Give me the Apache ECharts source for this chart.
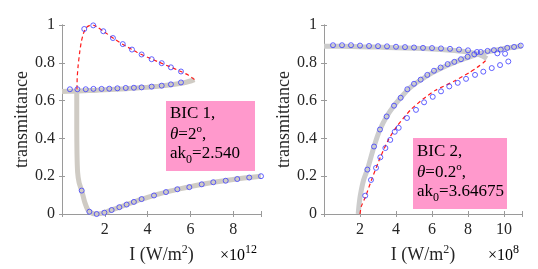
<!DOCTYPE html>
<html><head><meta charset="utf-8">
<script src="https://cdn.jsdelivr.net/npm/echarts@6/dist/echarts.min.js"></script>
<style>html,body{margin:0;padding:0;background:#fff}#c{width:538px;height:269px}</style>
</head><body><div id="c"></div>
<script>
// ---------- Panel 1 (BIC 1) ----------
const p1GrayUpper = [[0,0.648],[0.5,0.650],[1,0.652],[1.5,0.654],[2,0.657],[2.5,0.660],[3,0.663],[3.5,0.667],[4,0.671],[4.5,0.676],[5,0.682],[5.5,0.690],[5.8,0.697],[6.05,0.705],[6.19,0.711]];
const p1GrayLower = [[0.69,0.655],[0.69,0.45],[0.70,0.32],[0.73,0.22],[0.8,0.165],[0.92,0.124],[1.07,0.06],[1.23,0.018],[1.45,0.002],[1.62,0],[1.8,0.002],[2.0,0.008],[2.5,0.028],[3.0,0.049],[3.5,0.070],[4.0,0.088],[4.5,0.105],[5.0,0.120],[5.5,0.133],[6.0,0.145],[6.5,0.156],[7.0,0.166],[7.5,0.175],[8.0,0.183],[8.5,0.190],[9.3,0.200]];
const p1Red = [[0.70,0.66],[0.71,0.72],[0.75,0.78],[0.82,0.85],[0.9,0.91],[1.0,0.955],[1.12,0.985],[1.3,0.998],[1.45,1.0],[1.7,0.985],[2.0,0.962],[2.5,0.922],[3.0,0.887],[3.5,0.856],[4.0,0.829],[4.5,0.805],[5.0,0.781],[5.5,0.757],[5.9,0.735],[6.19,0.712]];
const p1CirclesUpper = [[1.04,0.979],[1.46,0.998],[1.93,0.967],[2.38,0.931],[2.84,0.899],[3.27,0.870],[3.72,0.844],[4.19,0.819],[4.66,0.798],[5.09,0.776],[5.56,0.754]];
const p1CirclesMid = [[0.37,0.660],[0.72,0.660],[1.11,0.660],[1.47,0.662],[1.85,0.662],[2.21,0.663],[2.59,0.665],[2.98,0.667],[3.36,0.668],[3.72,0.670],[4.19,0.674],[4.66,0.679],[5.09,0.686],[5.56,0.696]];
const p1CirclesLower = [[0.92,0.124],[1.28,0.012],[1.62,0.0],[1.98,0.007],[2.32,0.021],[2.68,0.036],[3.02,0.050],[3.36,0.064],[3.72,0.079],[4.30,0.098],[4.86,0.116],[5.39,0.131],[5.95,0.142],[6.53,0.157],[7.07,0.168],[7.65,0.176],[8.19,0.185],[8.75,0.193],[9.3,0.200]];
// ---------- Panel 2 (BIC 2) ----------
const p2GrayUpper = [[0,0.888],[1,0.887],[2,0.885],[3,0.883],[4,0.880],[5,0.877],[6,0.873],[7,0.867],[7.8,0.860],[8.4,0.850],[8.8,0.836],[9.05,0.822]];
const p2GrayLower = [[1.9,0],[1.95,0.05],[2.02,0.10],[2.2,0.18],[2.41,0.235],[2.78,0.357],[3.11,0.447],[3.48,0.516],[3.89,0.573],[4.26,0.615],[4.63,0.655],[5.0,0.685],[5.5,0.717],[6.11,0.752],[6.87,0.787],[7.61,0.815],[8.35,0.840],[9.09,0.858],[9.82,0.872],[10.5,0.882],[11,0.889]];
const p2Red = [[2.0,0.0],[2.07,0.04],[2.3,0.09],[2.67,0.188],[3.13,0.30],[3.59,0.395],[4.06,0.465],[4.8,0.55],[5.5,0.608],[6.2,0.655],[7.3,0.706],[8.1,0.750],[8.5,0.775],[8.85,0.800],[9.05,0.817]];
const p2CirclesA = [[0.5,0.893],[1.0,0.893],[1.5,0.893],[2.0,0.891],[2.5,0.889],[3.0,0.888],[3.5,0.887],[4.0,0.885],[4.5,0.883],[5.0,0.881],[5.5,0.879],[6.0,0.878],[6.5,0.876],[7.0,0.874],[7.5,0.870],[8.0,0.866],[8.5,0.857],[9.63,0.850],[10.06,0.848]];
const p2CirclesB = [[2.41,0.235],[2.78,0.357],[3.11,0.447],[3.48,0.516],[3.89,0.573],[4.26,0.615],[4.63,0.660],[5.0,0.689],[5.37,0.711],[5.74,0.736],[6.11,0.758],[6.48,0.775],[6.87,0.793],[7.24,0.805],[7.61,0.819],[7.98,0.832],[8.35,0.845],[8.71,0.857],[9.09,0.863],[9.44,0.867],[9.82,0.870],[10.18,0.879],[10.56,0.884],[10.93,0.891]];
const p2CirclesC = [[2.29,0.097],[2.61,0.180],[2.89,0.244],[3.13,0.300],[3.41,0.349],[3.68,0.392],[3.93,0.435],[4.15,0.456],[4.61,0.508],[5.11,0.551],[5.56,0.591],[6.04,0.620],[6.5,0.649],[6.96,0.675],[7.43,0.694],[7.89,0.715],[8.39,0.736],[8.85,0.753],[9.32,0.772],[9.78,0.788],[10.24,0.807]];
const yTicks = [0,0.2,0.4,0.6,0.8,1];
const x1Ticks = [2,4,6,8];
const x2Ticks = [2,4,6,8,10];
const x1Max = 9.3, x2Max = 11;

const FONT = '"Liberation Serif", "Times New Roman", Times, serif';
const AX = '#9a9a9a';
const TXT = '#262626';
const GRAY1 = '#cfcbc4', GRAY2 = '#cccccc';
const BLUE = '#3c3cff';

function xMain(gi, max, ticks){
  return {type:'value', gridIndex:gi, min:0, max:max, interval:2,
    axisLine:{show:true, lineStyle:{color:AX,width:1}},
    axisTick:{show:true, inside:true, length:3, lineStyle:{color:AX}},
    splitLine:{show:false},
    axisLabel:{show:true, margin:8, fontFamily:FONT, fontSize:16, color:TXT,
      formatter:v=> ticks.indexOf(v)>=0 ? String(v) : ''},
    name:'{n|I (W/m}{s|2}{n|)}', nameLocation:'middle', nameGap:30,
    nameTextStyle:{rich:{n:{fontFamily:FONT,fontSize:18,color:TXT,lineHeight:22},s:{fontFamily:FONT,fontSize:12,color:TXT,verticalAlign:'top',lineHeight:22}}}
  };
}
function xTop(gi,max){
  return {type:'value', gridIndex:gi, position:'top', min:0, max:max, interval:2,
    axisLine:{show:true, lineStyle:{color:AX,width:1}},
    axisTick:{show:true, inside:true, length:3, lineStyle:{color:AX}},
    axisLabel:{show:false}, splitLine:{show:false}};
}
function yMain(gi){
  return {type:'value', gridIndex:gi, min:0, max:1, interval:0.2,
    axisLine:{show:true, lineStyle:{color:AX,width:1}},
    axisTick:{show:true, inside:true, length:3, lineStyle:{color:AX}},
    splitLine:{show:false},
    axisLabel:{margin:7, fontFamily:FONT, fontSize:16, color:TXT,
      formatter:v=> yTicks.indexOf(Math.round(v*10)/10)>=0 ? String(Math.round(v*10)/10) : ''},
    name:'transmittance', nameLocation:'middle', nameGap:30,
    nameTextStyle:{fontFamily:FONT,fontSize:18,color:TXT}
  };
}
function yRight(gi){
  return {type:'value', gridIndex:gi, position:'right', min:0, max:1, interval:0.2,
    axisLine:{show:true, lineStyle:{color:AX,width:1}},
    axisTick:{show:true, inside:true, length:3, lineStyle:{color:AX}},
    axisLabel:{show:false}, splitLine:{show:false}};
}
function grayLine(data, xi, yi, col){
  return {type:'line', xAxisIndex:xi, yAxisIndex:yi, data:data, showSymbol:false, symbol:'none',
    lineStyle:{color:col,width:5}, smooth:0.2, z:1, silent:true, animation:false};
}
function redLine(data, xi, yi){
  return {type:'line', xAxisIndex:xi, yAxisIndex:yi, data:data, showSymbol:false, symbol:'none',
    lineStyle:{color:'#ff1a1a',width:1.2,type:[4,3]}, smooth:0.2, z:2, animation:false};
}
function circles(data, xi, yi){
  return {type:'scatter', xAxisIndex:xi, yAxisIndex:yi, data:data, symbol:'circle', symbolSize:5,
    itemStyle:{color:'rgba(0,0,0,0)', borderColor:BLUE, borderWidth:1}, z:3, animation:false};
}

const rich = {
  t:{fontFamily:FONT,fontSize:17,color:'#111',lineHeight:21},
  i:{fontFamily:FONT,fontSize:17,fontStyle:'italic',color:'#111',lineHeight:21},
  sup:{fontFamily:FONT,fontSize:11,color:'#111',verticalAlign:'top',lineHeight:21},
  b:{fontFamily:FONT,fontSize:17,color:'#111',lineHeight:21,verticalAlign:'top'},
  sub:{fontFamily:FONT,fontSize:12,color:'#111',verticalAlign:'bottom',lineHeight:12,padding:[12,0,0,0]}
};
const chart = echarts.init(document.getElementById('c'), null, {renderer:'canvas'});
chart.setOption({
  animation:false,
  backgroundColor:'#ffffff',
  grid:[{left:62, top:25, width:199, height:193},{left:324, top:25, width:198, height:193}],
  xAxis:[xMain(0,x1Max,x1Ticks), xTop(0,x1Max), xMain(1,x2Max,x2Ticks), xTop(1,x2Max)],
  yAxis:[yMain(0), yRight(0), yMain(1), yRight(1)],
  series:[
    grayLine(p1GrayUpper,0,0,GRAY1), grayLine(p1GrayLower,0,0,GRAY1), redLine(p1Red,0,0),
    circles(p1CirclesUpper,0,0), circles(p1CirclesMid,0,0), circles(p1CirclesLower,0,0),
    grayLine(p2GrayUpper,2,2,GRAY2), grayLine(p2GrayLower,2,2,GRAY2), redLine(p2Red,2,2),
    circles(p2CirclesA,2,2), circles(p2CirclesB,2,2), circles(p2CirclesC,2,2)
  ],
  graphic:[
    {type:'rect', shape:{x:166,y:101,width:89,height:70}, style:{fill:'#ff99cc'}, z:10},
    {type:'text', x:170, y:103, z:11, style:{text:'{t|BIC 1,}\n{i|θ}{t|=2}{sup|o}{t|,}\n{b|ak}{sub|0}{b|=2.540}', rich:rich}},
    {type:'rect', shape:{x:413,y:138,width:94,height:71}, style:{fill:'#ff99cc'}, z:10},
    {type:'text', x:417, y:141, z:11, style:{text:'{t|BIC 2,}\n{i|θ}{t|=0.2}{sup|o}{t|,}\n{b|ak}{sub|0}{b|=3.64675}', rich:rich}},
    {type:'text', x:220, y:244, z:11, style:{text:'{a|×10}{b|12}', rich:{a:{fontFamily:FONT,fontSize:16,color:TXT,lineHeight:20,verticalAlign:'bottom'},b:{fontFamily:FONT,fontSize:12,color:TXT,lineHeight:20,verticalAlign:'top'}}}},
    {type:'text', x:488, y:244, z:11, style:{text:'{a|×10}{b|8}', rich:{a:{fontFamily:FONT,fontSize:16,color:TXT,lineHeight:20,verticalAlign:'bottom'},b:{fontFamily:FONT,fontSize:12,color:TXT,lineHeight:20,verticalAlign:'top'}}}}
  ]
});
</script></body></html>
